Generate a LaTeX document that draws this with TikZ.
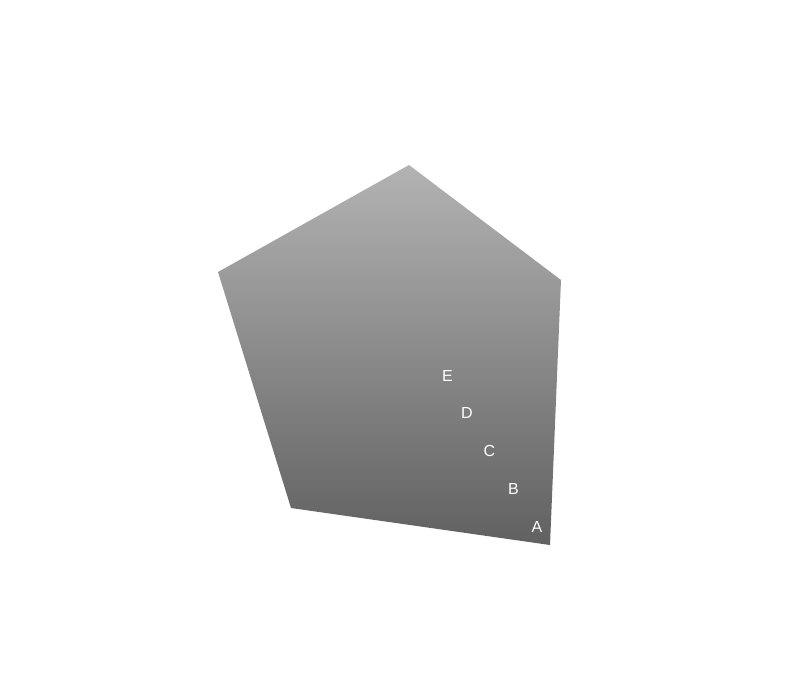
\documentclass[tikz,border=0pt]{standalone}
\usepackage{fontspec}
\setmainfont{Liberation Sans}
\begin{document}
\begin{tikzpicture}[x=1pt,y=-1pt]
        \useasboundingbox (0,0) rectangle (790,680);
        \coordinate (p1) at (409,165);
        \coordinate (p2) at (561,280);
        \coordinate (p3) at (550,545);
        \coordinate (p4) at (291,508);
        \coordinate (p5) at (218,272);
        \shade [top color=black!30, bottom color=black!62] (p1) -- (p2) -- (p3) -- (p4) -- (p5) -- cycle;

        \foreach \n/\x/\y in {E/447.5/376,D/467/413,C/489.5/451,B/513.5/489,A/537/527}
            {\node [text=white, font=\fontsize{16}{19}\selectfont, inner sep=0pt] (l\n) at (\x,\y) {\n};}
    \end{tikzpicture}
\end{document}
